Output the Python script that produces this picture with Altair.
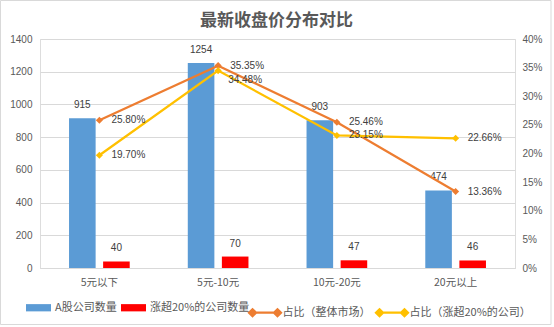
import altair as alt
import pandas as pd

title_text = "最新收盘价分布对比"
categories = ["5元以下", "5元-10元", "10元-20元", "20元以上"]
bar_series = ["A股公司数量", "涨超20%的公司数量"]
a_share_counts = [915, 1254, 903, 474]
up20_counts = [40, 70, 47, 46]
line_series = ["占比（整体市场）", "占比（涨超20%的公司）"]
pct_market = [0.2580, 0.3535, 0.2546, 0.1336]
pct_up20 = [0.1970, 0.3448, 0.2315, 0.2266]
left_ticks = [0, 200, 400, 600, 800, 1000, 1200, 1400]
right_ticks = [0, 0.05, 0.10, 0.15, 0.20, 0.25, 0.30, 0.35, 0.40]

BLUE, RED, ORANGE, YELLOW = "#5B9BD5", "#FF0000", "#ED7D31", "#FFC000"
GRID, TXT, LBL = "#D9D9D9", "#595959", "#404040"
CJK = "Noto Sans CJK SC"
NUM = "Liberation Sans"

bars_df = pd.DataFrame(
    [{"cat": c, "series": bar_series[0], "v": v} for c, v in zip(categories, a_share_counts)]
    + [{"cat": c, "series": bar_series[1], "v": v} for c, v in zip(categories, up20_counts)]
)
lines_df = pd.DataFrame(
    [{"cat": c, "series": line_series[0], "p": p} for c, p in zip(categories, pct_market)]
    + [{"cat": c, "series": line_series[1], "p": p} for c, p in zip(categories, pct_up20)]
)

x_enc = alt.X(
    "cat:N", sort=categories, title=None,
    scale=alt.Scale(domain=categories, paddingInner=0.489, paddingOuter=0.2445),
    axis=alt.Axis(labelAngle=0, ticks=False, domainColor=GRID, labelPadding=9,
                  labelFont=CJK, labelFontSize=10.5, labelColor=TXT, grid=False),
)
xoff = alt.XOffset("series:N", sort=bar_series,
                   scale=alt.Scale(domain=bar_series, paddingInner=0.22, paddingOuter=0))
y_left = alt.Y(
    "v:Q", title=None,
    scale=alt.Scale(domain=[0, 1400], nice=False),
    axis=alt.Axis(orient="left", values=left_ticks, domain=False, ticks=False, grid=True,
                  gridColor=GRID, labelFont=NUM, labelFontSize=10, labelColor=TXT,
                  labelPadding=8, format="d"),
)
y_right = alt.Y(
    "p:Q", title=None,
    scale=alt.Scale(domain=[0, 0.4], nice=False),
    axis=alt.Axis(orient="right", values=right_ticks, format=".0%", domain=False, ticks=False,
                  grid=False, labelFont=NUM, labelFontSize=10, labelColor=TXT, labelPadding=7),
)

bars = alt.Chart(bars_df).mark_bar().encode(
    x=x_enc, xOffset=xoff, y=y_left,
    fill=alt.Fill("series:N", sort=bar_series,
                  scale=alt.Scale(domain=bar_series, range=[BLUE, RED]),
                  legend=alt.Legend(orient="none", direction="horizontal", title=None,
                                    legendX=-14, legendY=256,
                                    symbolType="M-1,-0.29H1V0.29H-1Z", symbolSize=625,
                                    symbolStrokeWidth=0, labelFont=CJK, labelFontSize=11,
                                    labelColor=TXT, labelOffset=4, columnPadding=4)),
)
bar_text = alt.Chart(bars_df).mark_text(dy=-13, baseline="middle", font=NUM, fontSize=10,
                                         color=LBL).encode(
    x=x_enc, xOffset=xoff, y=y_left, text=alt.Text("v:Q"),
)
bar_layer = alt.layer(bars, bar_text)

line_symbol = ("M-0.98,0H0.98"
               "M-0.78,-0.22L-0.56,0L-0.78,0.22L-1,0Z"
               "M-0.78,-0.09L-0.69,0L-0.78,0.09L-0.87,0Z"
               "M0.78,-0.22L1,0L0.78,0.22L0.56,0Z"
               "M0.78,-0.09L0.87,0L0.78,0.09L0.69,0Z")
lines = alt.Chart(lines_df).mark_line(strokeWidth=2.25).encode(
    x=x_enc, y=y_right,
    stroke=alt.Stroke("series:N", sort=line_series,
                      scale=alt.Scale(domain=line_series, range=[ORANGE, YELLOW]),
                      legend=alt.Legend(orient="none", direction="horizontal", title=None,
                                        legendX=207.5, legendY=256,
                                        symbolType=line_symbol, symbolSize=1024,
                                        symbolStrokeWidth=2.25, symbolFillColor="transparent",
                                        labelFont=CJK, labelFontSize=11, labelColor=TXT,
                                        labelOffset=0, columnPadding=1)),
)
points = alt.Chart(lines_df).mark_point(shape="diamond", filled=True, size=50, opacity=1).encode(
    x=x_enc, y=y_right,
    color=alt.Color("series:N", sort=line_series,
                    scale=alt.Scale(domain=line_series, range=[ORANGE, YELLOW]), legend=None),
)
low_cond = f"datum.cat == '{categories[1]}' && datum.series == '{line_series[1]}'"
line_text = alt.Chart(lines_df).mark_text(align="left", baseline="middle", dx=12, font=NUM,
                                          fontSize=10, color=LBL).encode(
    x=x_enc, y=y_right, text=alt.Text("p:Q", format=".2%"),
).transform_filter(f"!({low_cond})")
line_text_low = alt.Chart(lines_df).mark_text(align="left", baseline="middle", dx=10, dy=9,
                                              font=NUM, fontSize=10, color=LBL).encode(
    x=x_enc, y=y_right, text=alt.Text("p:Q", format=".2%"),
).transform_filter(low_cond)
line_layer = alt.layer(lines, points, line_text, line_text_low)

deco = alt.Data(values=[{"t": title_text}])
frame = alt.Chart(deco).mark_rect(filled=False, stroke=GRID, strokeWidth=1).encode(
    x=alt.value(-39.5), x2=alt.value(511), y=alt.value(-38.5), y2=alt.value(285.5),
)
title = alt.Chart(deco).mark_text(font=CJK, fontSize=17, fontWeight="bold", color=TXT,
                                  baseline="middle", align="center").encode(
    x=alt.value(236.5), y=alt.value(-18), text=alt.Text("t:N"),
)

chart = alt.layer(bar_layer, line_layer, frame, title).resolve_scale(y="independent").properties(
    width=475, height=229,
    autosize=alt.AutoSizeParams(type="none"),
    padding={"left": 40, "top": 39, "right": 39, "bottom": 59},
).configure_view(stroke=None).configure(background="white")

chart.save("out.html", embed_options={"renderer": "svg", "actions": False})
